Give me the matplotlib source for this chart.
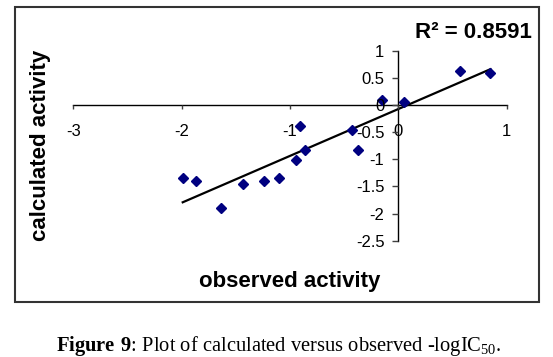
import numpy as np
import matplotlib
matplotlib.use('Agg')
import matplotlib.pyplot as plt
from matplotlib.patches import Rectangle

# observed vs calculated -logIC50
observed = [-1.99, -1.87, -1.64, -1.43, -1.24, -1.10, -0.94, -0.91, -0.86,
            -0.43, -0.37, -0.15, 0.05, 0.57, 0.85]
calculated = [-1.35, -1.40, -1.90, -1.45, -1.40, -1.35, -1.01, -0.38, -0.83,
              -0.47, -0.83, 0.10, 0.05, 0.63, 0.58]
x_ticks = [-3, -2, -1, 0, 1]
y_ticks = [-2.5, -2, -1.5, -1, -0.5, 0, 0.5, 1]

plt.rcParams['font.family'] = ['Liberation Sans', 'DejaVu Sans']
plt.rcParams['mathtext.fontset'] = 'custom'
plt.rcParams['mathtext.rm'] = 'Liberation Serif'
plt.rcParams['mathtext.bf'] = 'Liberation Serif:bold'

fig = plt.figure(figsize=(5.53, 3.57), dpi=100)
ax = fig.add_axes([0.1325, 0.3258, 0.9163 - 0.1325, 0.858 - 0.3258])

ax.plot(observed, calculated, 'D', color='#000080', markersize=5.5, zorder=3)

# linear trendline
k, b = np.polyfit(observed, calculated, 1)
xs = np.array([min(observed), max(observed)])
ax.plot(xs, k * xs + b, color='black', linewidth=1.6, zorder=2)

ax.set_xlim(-3, 1)
ax.set_ylim(-2.5, 1)
ax.spines['top'].set_visible(False)
ax.spines['right'].set_visible(False)
ax.spines['left'].set_position(('data', 0))
ax.spines['bottom'].set_position(('data', 0))
for s in ['left', 'bottom']:
    ax.spines[s].set_linewidth(1.0)
    ax.spines[s].set_color('black')

ax.set_xticks(x_ticks)
ax.set_xticklabels([str(t) for t in x_ticks])
ax.set_yticks(y_ticks)
ax.set_yticklabels(['%g' % t for t in y_ticks])
ax.tick_params(axis='x', direction='out', length=3, width=1, color='#404040',
               pad=11, labelsize=12)
ax.tick_params(axis='y', direction='out', length=4.5, width=1, color='#404040',
               pad=5.5, labelsize=12)
ax.yaxis.set_zorder(4)
ax.xaxis.set_zorder(4)
ax.patch.set_visible(False)

fig.text(0.523, 1 - 281 / 357, 'observed activity', fontsize=16,
         fontweight='bold', ha='center', va='center')
fig.text(41 / 553, 1 - 145.5 / 357, 'calculated activity', fontsize=16,
         fontweight='bold', ha='center', va='center', rotation=90)
fig.text(532 / 553, 1 - 33 / 357, 'R² = 0.8591', fontsize=16,
         fontweight='bold', ha='right', va='center')

# outer chart border
fig.patches.append(Rectangle((15 / 553, 1 - 301.7 / 357), 524 / 553, 294.7 / 357,
                             transform=fig.transFigure, fill=False,
                             edgecolor='#333333', linewidth=1.5))

fig.text(279 / 553, 1 - 351 / 357,
         r'$\mathbf{Figure\ 9}$: Plot of calculated versus observed -logIC$_{50}$.',
         family='Liberation Serif', fontsize=14.8, ha='center', va='baseline')

fig.savefig('out.png', dpi=100)
